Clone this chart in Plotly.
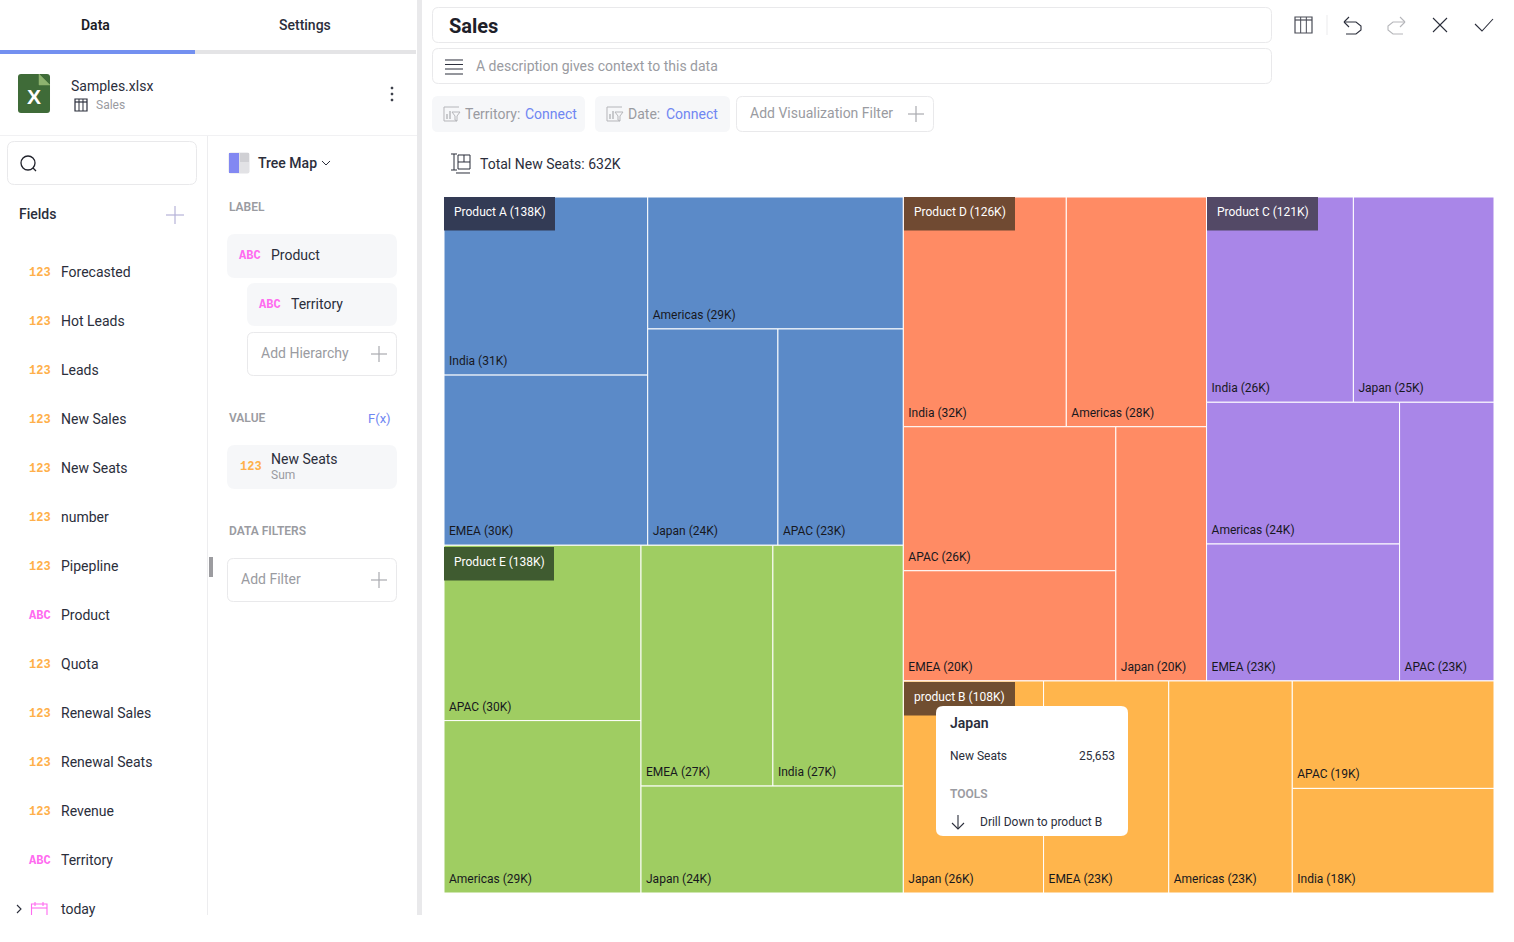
import plotly.graph_objects as go

W, H = 1514, 942

# treemap data (thousands of seats)
products = ["Product A", "Product E", "Product D", "Product C", "product B"]
product_totals = [138, 138, 126, 121, 108]
territories_a = ["India", "EMEA", "Americas", "Japan", "APAC"]
seats_a = [31.3, 29.9, 29.1, 24.3, 23.4]
territories_e = ["APAC", "Americas", "EMEA", "India", "Japan"]
seats_e = [29.8, 29.3, 27.4, 27.1, 24.2]
territories_d = ["India", "Americas", "APAC", "EMEA", "Japan"]
seats_d = [32.3, 27.8, 26.4, 20.2, 19.9]
territories_c = ["India", "Japan", "Americas", "EMEA", "APAC"]
seats_c = [26.0, 24.9, 23.6, 22.8, 22.7]
territories_b = ["Japan", "EMEA", "Americas", "APAC", "India"]
seats_b = [25.653, 22.9, 22.6, 18.7, 18.2]
product_colors = ["#5B8AC8", "#9FCD62", "#FF8B64", "#A986E8", "#FFB54C"]

# field list of the side panel
field_names = ["Forecasted", "Hot Leads", "Leads", "New Sales", "New Seats", "number", "Pipepline",
               "Product", "Quota", "Renewal Sales", "Renewal Seats", "Revenue", "Territory"]
field_kinds = ["123", "123", "123", "123", "123", "123", "123", "ABC", "123", "123", "123", "123", "ABC"]

FONT = "Roboto"
TAGFONT = "Liberation Mono"
INK = "#2B2E3B"
GREY = "#9A9BA1"
LINE = "#E9E9EB"
PILL = "#F6F7F9"
BLUE = "#6F86F2"
AMBER = "#FFB04A"
PINK = "#FF6BF0"


def fx(x):
    return x / W


def fy(y):
    return 1 - y / H


def pt(x, y):
    return f"{fx(x):.5f},{fy(y):.5f}"


shapes = []
notes = []


def rect(x0, y0, x1, y1, fill, line=None):
    shapes.append(dict(type="rect", xref="paper", yref="paper", x0=fx(x0), x1=fx(x1), y0=fy(y0), y1=fy(y1),
                       fillcolor=fill, line=dict(color=line or fill, width=1 if line else 0), layer="above"))


def rrect(x0, y0, x1, y1, r, fill, line=None):
    p = (f"M{pt(x0 + r, y0)} L{pt(x1 - r, y0)} Q{pt(x1, y0)} {pt(x1, y0 + r)} "
         f"L{pt(x1, y1 - r)} Q{pt(x1, y1)} {pt(x1 - r, y1)} "
         f"L{pt(x0 + r, y1)} Q{pt(x0, y1)} {pt(x0, y1 - r)} "
         f"L{pt(x0, y0 + r)} Q{pt(x0, y0)} {pt(x0 + r, y0)} Z")
    shapes.append(dict(type="path", xref="paper", yref="paper", path=p, fillcolor=fill,
                       line=dict(color=line or fill, width=1 if line else 0), layer="above"))


def stroke(points, color=INK, width=1.2, fill=None, close=False):
    p = "M" + " L".join(pt(x, y) for x, y in points) + (" Z" if close else "")
    shapes.append(dict(type="path", xref="paper", yref="paper", path=p, fillcolor=fill or "rgba(0,0,0,0)",
                       line=dict(color=color, width=width), layer="above"))


def circle(cx, cy, r, color=INK, width=1.2, fill=None):
    shapes.append(dict(type="circle", xref="paper", yref="paper", x0=fx(cx - r), x1=fx(cx + r),
                       y0=fy(cy - r), y1=fy(cy + r), fillcolor=fill or "rgba(0,0,0,0)",
                       line=dict(color=color, width=width), layer="above"))


def label(x, y, text, size=14, color=INK, weight=400, anchor="left", family=FONT):
    # annotations sit one pixel in from their anchor
    x = x - 1 if anchor == "left" else x
    notes.append(dict(xref="paper", yref="paper", x=fx(x), y=fy(y), text=text, showarrow=False,
                      xanchor=anchor, yanchor="middle", borderpad=0, align=anchor,
                      font=dict(family=family, size=size, color=color, weight=weight)))


def plus(cx, cy, r=8, color="#A9AAAF"):
    stroke([(cx - r, cy), (cx + r, cy)], color, 1.2)
    stroke([(cx, cy - r), (cx, cy + r)], color, 1.2)


def table_icon(x0, y0, x1, y1, color=INK):
    stroke([(x0, y0), (x1, y0), (x1, y1), (x0, y1)], color, 1.2, close=True)
    stroke([(x0, y0 + 3), (x1, y0 + 3)], color, 1.2)
    for k in (1, 2):
        xk = x0 + (x1 - x0) * k / 3
        stroke([(xk, y0), (xk, y1)], color, 1)


def filter_icon(x, y):
    stroke([(x, y - 7), (x, y + 7), (x + 13, y + 7)], "#B5B6BA", 1)
    stroke([(x, y - 7), (x + 15, y - 7)], "#B5B6BA", 1)
    stroke([(x + 3, y + 5), (x + 3, y)], "#B5B6BA", 1.4)
    stroke([(x + 6, y + 5), (x + 6, y - 3)], "#B5B6BA", 1.4)
    stroke([(x + 8, y - 2), (x + 16, y - 2), (x + 13, y + 2), (x + 13, y + 7), (x + 11, y + 6), (x + 11, y + 2)],
           "#B5B6BA", 1, close=True)


# left panel
rect(417, 0, 422, 915, LINE)
rect(0, 50, 195, 54, "#7390F0")
rect(195, 50, 416, 54, "#E4E4E6")
label(95.5, 25, "Data", 14, "#1B1C24", 600, "center")
label(304.5, 25, "Settings", 14, "#2B2E3B", 500, "center")
rect(0, 135, 417, 136, "#F1F1F3")
rect(207, 136, 208, 915, "#EDEDEF")
rrect(18, 74, 50, 113, 3, "#3F6B38")
stroke([(39, 74), (50, 85), (39, 85)], "#8DB26F", 0.5, fill="#8DB26F", close=True)
label(34, 97, "X", 21, "#FFFFFF", 800, "center", "Liberation Sans")
label(71, 86, "Samples.xlsx", 14)
table_icon(75, 99, 87, 111)
label(96, 105, "Sales", 12, GREY)
for yy in (88, 94, 100):
    circle(392, yy, 1, INK, 0.8, INK)

rrect(7.5, 141.5, 196.5, 184.5, 7, "#FFFFFF", LINE)
circle(28, 163, 7, "#20222B", 1.3)
stroke([(33, 168), (36, 171)], "#20222B", 1.3)
label(19, 214, "Fields", 14, INK, 500)
plus(175, 215, 9, "#B6B3D8")

row_y = 272
for name, kind in zip(field_names, field_kinds):
    label(29, row_y + 1, kind, 12, AMBER if kind == "123" else PINK, 700, family=TAGFONT)
    label(61, row_y, name, 14)
    row_y += 49
# last row has a date icon instead of a type tag
stroke([(17, 905), (21, 909), (17, 913)], INK, 1.1)
stroke([(31.5, 915), (31.5, 904), (47, 904), (47, 915)], PINK, 1.1)
stroke([(31.5, 908), (47, 908)], PINK, 1.1)
stroke([(35, 902), (35, 906)], PINK, 1.1)
stroke([(43, 902), (43, 906)], PINK, 1.1)
label(61, 909, "today", 14)
rect(209, 557, 213, 577, "#9C9CA0")

# middle panel
rrect(228.5, 152.5, 249.5, 173.5, 2, "#E2E2E5")
rect(229, 153, 239, 173, "#8288F2")
rect(240, 153, 249, 162, "#D0D0D4")
label(258, 163, "Tree Map", 14, INK, 500)
stroke([(322, 161), (326, 165), (330, 161)], INK, 1)
label(229, 207, "LABEL", 12, GREY, 600)
rrect(227, 234, 397, 278, 8, PILL)
label(239, 256, "ABC", 12, PINK, 700, family=TAGFONT)
label(271, 255, "Product", 14)
rrect(247, 283, 397, 326, 8, PILL)
label(259, 305, "ABC", 12, PINK, 700, family=TAGFONT)
label(291, 304, "Territory", 14)
rrect(247.5, 332.5, 396.5, 375.5, 6, "#FFFFFF", LINE)
label(261, 353, "Add Hierarchy", 14, GREY)
plus(379, 354)
label(229, 418, "VALUE", 12, GREY, 600)
label(368, 418, "F(x)", 13, BLUE)
rrect(227, 445, 397, 489, 8, PILL)
label(240, 467, "123", 12, AMBER, 700, family=TAGFONT)
label(271, 459, "New Seats", 14)
label(271, 475, "Sum", 12, GREY)
label(229, 531, "DATA FILTERS", 12, GREY, 600)
rrect(227.5, 558.5, 396.5, 601.5, 6, "#FFFFFF", LINE)
label(241, 579, "Add Filter", 14, GREY)
plus(379, 580)

# header
rrect(432.5, 7.5, 1271.5, 42.5, 6, "#FFFFFF", LINE)
label(449, 26, "Sales", 20, "#1E2029", 700)
rrect(432.5, 48.5, 1271.5, 83.5, 6, "#FFFFFF", LINE)
for yy in (60, 64.5, 69, 74):
    stroke([(445, yy), (463, yy)], INK, 1)
label(476, 66, "A description gives context to this data", 14, GREY)
rrect(432, 96, 585, 132, 6, PILL)
filter_icon(444, 114)
label(465, 114, "Territory:", 14, GREY)
label(525, 114, "Connect", 14, BLUE)
rrect(595, 96, 730, 132, 6, PILL)
filter_icon(607, 114)
label(628, 114, "Date:", 14, GREY)
label(666, 114, "Connect", 14, BLUE)
rrect(736.5, 96.5, 933.5, 131.5, 6, "#FFFFFF", LINE)
label(750, 113, "Add Visualization Filter", 14, GREY)
plus(916, 114)
stroke([(451, 154), (457, 154)], INK, 1)
stroke([(454, 154), (454, 170)], INK, 1)
stroke([(451, 170), (457, 170)], INK, 1)
stroke([(458, 155), (470, 155), (470, 169), (458, 169)], INK, 1, close=True)
stroke([(458, 162), (470, 162)], INK, 1)
stroke([(464, 155), (464, 162)], INK, 1)
stroke([(456, 173), (470, 173)], INK, 1)
label(480, 164, "Total New Seats: 632K", 14)

# top right tools
table_icon(1295, 17, 1312, 33, "#4A4C57")
rect(1326.5, 15, 1327.5, 35, "#EBEBED")
stroke([(1344, 22), (1349, 17)], INK, 1.1)
stroke([(1344, 22), (1349, 27)], INK, 1.1)
stroke([(1344, 22), (1356, 22), (1361, 26), (1361, 30), (1356, 34), (1346, 34)], INK, 1.1)
stroke([(1405, 22), (1400, 17)], "#B5B6BA", 1.1)
stroke([(1405, 22), (1400, 27)], "#B5B6BA", 1.1)
stroke([(1405, 22), (1393, 22), (1388, 26), (1388, 30), (1393, 34), (1403, 34)], "#B5B6BA", 1.1)
stroke([(1433, 18), (1447, 32)], INK, 1.1)
stroke([(1447, 18), (1433, 32)], INK, 1.1)
stroke([(1475, 24), (1482, 31), (1493, 19)], INK, 1.1)

# product tags over the treemap
tag_boxes = [(444, 197, 555), (444, 547, 554), (904, 197, 1015), (1207, 197, 1318), (904, 682, 1015)]
tag_colors = ["#333B55", "#3F5B30", "#704A32", "#534966", "#704E30"]
for name, total, box, col in zip(products, product_totals, tag_boxes, tag_colors):
    rect(box[0], box[1], box[2], box[1] + 33.5, col)
    label(box[0] + 10, box[1] + 14.5, f"{name} ({total}K)", 12, "#FFFFFF")

# tooltip
rrect(936, 706, 1128, 836, 7, "#FFFFFF")
label(950, 723, "Japan", 14, INK, 600)
label(950, 756, "New Seats", 12)
label(1116, 756, "25,653", 12, INK, 400, "right")
label(950, 794, "TOOLS", 12, GREY, 600)
stroke([(958, 815), (958, 829)], INK, 1.1)
stroke([(952, 823), (958, 829), (964, 823)], INK, 1.1)
label(980, 822, "Drill Down to product B", 12)

# treemap nodes
groups = [(territories_a, seats_a), (territories_e, seats_e), (territories_d, seats_d),
          (territories_c, seats_c), (territories_b, seats_b)]
ids, labels, parents, values, texts, colors = ["root"], [""], [""], [0], [""], ["#FFFFFF"]
for product, (names, seats), col in zip(products, groups, product_colors):
    ids.append(product)
    labels.append(product)
    parents.append("root")
    values.append(0)
    texts.append("")
    colors.append(col)
    for name, v in zip(names, seats):
        ids.append(f"{product}/{name}")
        labels.append(name)
        parents.append(product)
        values.append(v)
        texts.append(f"{name} ({round(v)}K)")
        colors.append(col)

fig = go.Figure(go.Treemap(
    ids=ids, labels=labels, parents=parents, values=values, text=texts,
    branchvalues="remainder",
    textinfo="text",
    textposition="bottom left",
    textfont=dict(family=FONT, size=12, color="#17181E"),
    marker=dict(colors=colors, line=dict(color="#FFFFFF", width=1), pad=dict(t=0, l=0, r=0, b=0),
                depthfade=False),
    pathbar=dict(visible=False),
    tiling=dict(packing="squarify", squarifyratio=1, pad=0),
    hoverinfo="skip",
    domain=dict(x=[fx(444), fx(1494)], y=[fy(893), fy(197)]),
))
fig.update_layout(
    width=W, height=H,
    margin=dict(l=0, r=0, t=0, b=0),
    paper_bgcolor="#FFFFFF",
    font=dict(family=FONT),
    showlegend=False,
    shapes=shapes,
    annotations=notes,
)

# nudge the leaf labels, plotly has a fixed text inset
nudge = """
document.body.style.margin='0';document.body.style.overflow='hidden';
document.querySelectorAll('.slicetext text').forEach(function(t){
  t.setAttribute('transform','translate(2,-4) '+(t.getAttribute('transform')||''));
});
"""
fig.write_html("out.html", config=dict(displayModeBar=False), post_script=nudge)
